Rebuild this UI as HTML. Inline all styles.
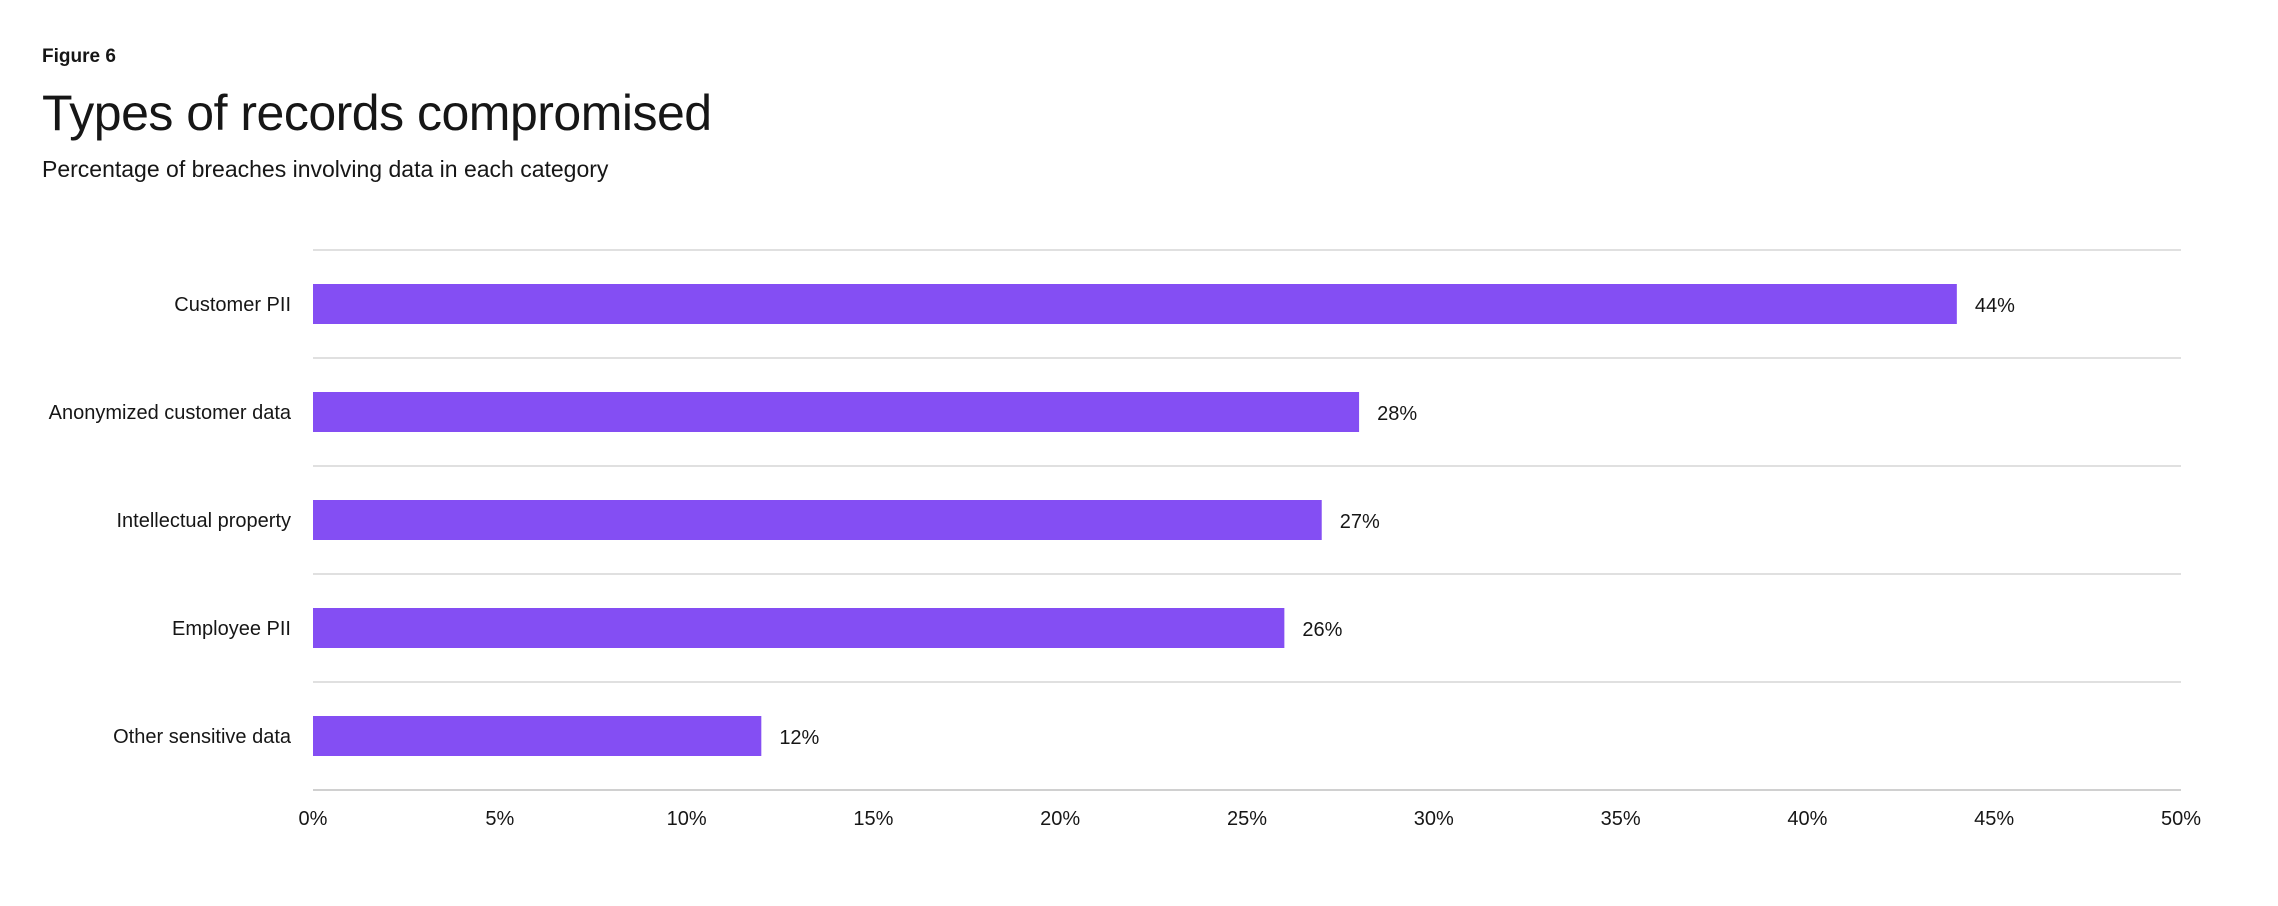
<!DOCTYPE html>
<html><head><meta charset="utf-8"><style>
body{margin:0;background:#fff;width:2278px;height:906px;overflow:hidden;font-family:"Liberation Sans",sans-serif;color:#161616}
.t{position:absolute;left:42px;margin:0;white-space:nowrap}
</style></head><body>
<div class="t" style="top:46px;font-size:19px;font-weight:bold">Figure 6</div>
<div class="t" style="top:84px;font-size:50px;font-weight:normal;letter-spacing:-0.5px">Types of records compromised</div>
<div class="t" style="top:156px;font-size:23px">Percentage of breaches involving data in each category</div>
<svg id="c" width="2278" height="906" style="position:absolute;left:0;top:0" font-family="Liberation Sans, sans-serif"></svg>
<script>
const categories=["Customer PII","Anonymized customer data","Intellectual property","Employee PII","Other sensitive data"];
const values=[44,28,27,26,12];
const ticks=[0,5,10,15,20,25,30,35,40,45,50];
const svg=document.getElementById('c');const NS='http://www.w3.org/2000/svg';
const x0=313,x1=2181,y0=250,band=108,bh=40;
const x=v=>x0+(x1-x0)*v/50;
function mk(t,a,p){const e=document.createElementNS(NS,t);for(const k in a)e.setAttribute(k,a[k]);(p||svg).appendChild(e);return e;}
for(let i=0;i<=categories.length;i++){
 const g=mk('line',{x1:x0,x2:x1,y1:y0+i*band,y2:y0+i*band,stroke:i==categories.length?'#d0d0d0':'#e0e0e0','stroke-width':2});
 
 
}
categories.forEach((c,i)=>{
 const cy=y0+band*i+band/2;
 const r=mk('rect',{x:x0,y:cy-bh/2,width:x(values[i])-x0,height:bh,fill:'#844ef3'});
 
 
 const l=mk('text',{x:291,y:cy+7,'text-anchor':'end','font-size':20,fill:'#161616'});l.textContent=c;
 
 
 const v=mk('text',{x:x(values[i])+18,y:cy+8,'font-size':20,fill:'#161616'});v.textContent=values[i]+'%';
 
 
});
ticks.forEach(t=>{
 const e=mk('text',{x:x(t),y:825,'text-anchor':'middle','font-size':20,fill:'#161616'});e.textContent=t+'%';
 
 
});
</script>
</body></html>
